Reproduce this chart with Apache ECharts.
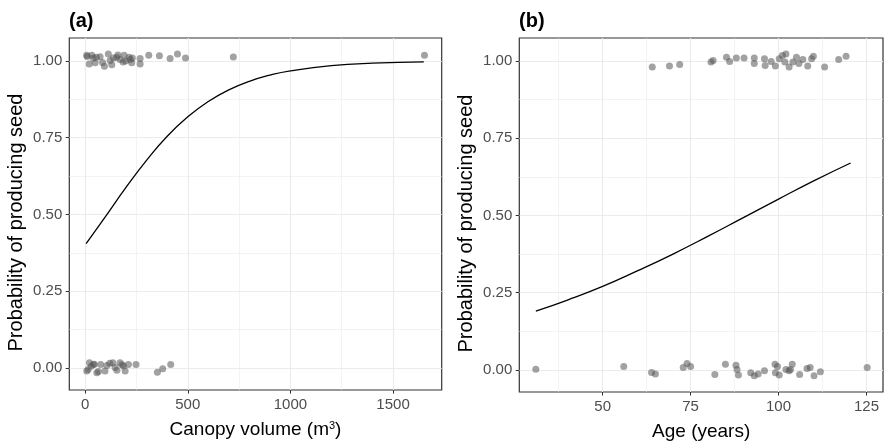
<!DOCTYPE html>
<html>
<head>
<meta charset="utf-8">
<script src="https://cdn.jsdelivr.net/npm/echarts@6/dist/echarts.min.js"></script>
<style>
  html, body { margin: 0; padding: 0; background: #fff; }
  #chart { width: 886px; height: 446px; }
</style>
</head>
<body>
<div id="chart"></div>
<script>
// ---------- Panel (a): canopy volume ----------
const canopyTopX = [8, 33, 49, 40, 73, 94, 113, 122, 138, 154, 170, 190, 198, 214, 227, 230, 268, 268, 310, 362, 414, 450, 489, 722, 1653, 10, 20, 55, 85, 130, 160, 185, 220];
const canopyTopY = [1.019, 1.019, 0.994, 1.010, 1.014, 0.983, 1.023, 1.002, 1.010, 1.012, 1.005, 1.019, 1.000, 1.012, 0.994, 1.010, 1.008, 0.990, 1.019, 1.017, 1.008, 1.023, 1.010, 1.013, 1.019, 1.015, 0.990, 1.012, 0.995, 0.988, 1.020, 0.997, 1.005];
const canopyBottomX = [21, 8, 40, 57, 76, 97, 106, 135, 146, 170, 187, 195, 211, 248, 352, 378, 417, 15, 45, 65, 120, 155, 180, 30];
const canopyBottomY = [0.017, -0.010, 0.011, -0.016, 0.011, -0.010, 0.008, 0.017, 0.001, 0.017, 0.006, -0.010, 0.011, 0.011, -0.014, -0.003, 0.011, -0.005, 0.012, -0.012, 0.015, -0.008, 0.010, 0.005];
const canopyCurveX = [5, 100, 200, 300, 400, 500, 600, 700, 800, 900, 1000, 1200, 1400, 1650];
const canopyCurveY = [0.405, 0.494, 0.589, 0.677, 0.755, 0.818, 0.868, 0.906, 0.934, 0.954, 0.968, 0.985, 0.993, 0.997];
const canopyTicks = [0, 500, 1000, 1500];

// ---------- Panel (b): age ----------
const ageTopX = [64.1, 69.0, 71.9, 80.8, 81.4, 85.2, 86.1, 88.0, 90.2, 93.1, 93.1, 96.0, 96.2, 97.9, 99.1, 100.2, 101.1, 102.1, 101.8, 103.0, 104.1, 105.1, 105.8, 106.9, 108.3, 109.4, 109.9, 113.1, 117.1, 119.2];
const ageTopY = [0.981, 0.984, 0.989, 0.997, 1.002, 1.013, 0.999, 1.010, 1.010, 1.010, 0.992, 1.008, 0.986, 0.999, 0.984, 1.008, 1.018, 1.023, 0.997, 0.981, 0.997, 1.013, 0.992, 1.005, 0.984, 1.008, 1.016, 0.981, 1.005, 1.016];
const ageBottomX = [31.0, 56.0, 63.9, 65.0, 72.9, 74.0, 75.0, 81.9, 84.9, 87.9, 88.2, 88.6, 92.1, 93.1, 94.2, 96.0, 99.0, 99.7, 99.1, 100.2, 102.1, 103.0, 103.9, 103.4, 106.0, 108.1, 109.0, 110.1, 111.9, 125.2];
const ageBottomY = [0.002, 0.011, -0.009, -0.014, 0.007, 0.020, 0.011, -0.015, 0.018, 0.015, 0.001, -0.017, -0.010, -0.019, -0.014, -0.003, 0.018, 0.011, -0.010, -0.017, 0.001, -0.003, 0.018, 0.001, -0.015, 0.004, 0.007, -0.019, -0.006, 0.007];
const ageCurveX = [31, 40, 50, 60, 70, 80, 90, 100, 110, 120.5];
const ageCurveY = [0.190, 0.226, 0.270, 0.321, 0.375, 0.433, 0.493, 0.553, 0.612, 0.670];
const ageTicks = [50, 75, 100, 125];

const probTicks = [0, 0.25, 0.5, 0.75, 1];

function pairs(xs, ys) { return xs.map((x, i) => [x, ys[i]]); }

const FONT = 'Liberation Sans, Arial, Helvetica, sans-serif';
const GRIDC = '#ebebeb';

function xAxisCfg(gridIndex, min, max, step, ticks, name, rich) {
  return {
    type: 'value', gridIndex, min, max, minInterval: step, maxInterval: step,
    name, nameLocation: 'middle', nameGap: 30,
    nameTextStyle: { fontSize: 19, color: '#000', fontFamily: FONT, rich: rich },
    axisLine: { show: false, onZero: false },
    axisTick: { show: true, length: 3.6, customValues: ticks, lineStyle: { color: '#333', width: 1 } },
    axisLabel: { color: '#4d4d4d', fontSize: 15, fontFamily: FONT, margin: 7,
      formatter: v => (ticks.indexOf(v) >= 0 ? String(v) : '') },
    splitLine: { show: true, lineStyle: { color: GRIDC, width: 1.1 } },
    minorTick: { show: false, splitNumber: 2 },
    minorSplitLine: { show: true, lineStyle: { color: GRIDC, width: 0.6 } }
  };
}
function yAxisCfg(gridIndex) {
  return {
    type: 'value', gridIndex, min: -0.072, max: 1.075, minInterval: 0.25, maxInterval: 0.25,
    name: 'Probability of producing seed', nameLocation: 'middle', nameGap: 43,
    nameTextStyle: { fontSize: 20, color: '#000', fontFamily: FONT, padding: [0, 17, 0, 0] },
    axisLine: { show: false, onZero: false },
    axisTick: { show: true, length: 3.6, customValues: probTicks, lineStyle: { color: '#333', width: 1 } },
    axisLabel: { color: '#4d4d4d', fontSize: 15, fontFamily: FONT, margin: 7,
      formatter: v => (probTicks.some(t => Math.abs(t - v) < 1e-9) ? v.toFixed(2) : '') },
    splitLine: { show: true, lineStyle: { color: GRIDC, width: 1.1 } },
    minorTick: { show: false, splitNumber: 2 },
    minorSplitLine: { show: true, lineStyle: { color: GRIDC, width: 0.6 } }
  };
}

const pointStyle = { color: '#555555', opacity: 0.55 };
const lineStyle = { color: '#000', width: 1.3 };

const chart = echarts.init(document.getElementById('chart'), null, { renderer: 'canvas' });
chart.setOption({
  animation: false,
  backgroundColor: '#ffffff',
  textStyle: { fontFamily: FONT },
  title: [
    { text: '(a)', left: 69, top: 11, padding: 0, textStyle: { fontSize: 20, fontWeight: 'bold', color: '#000', fontFamily: FONT } },
    { text: '(b)', left: 519, top: 11, padding: 0, textStyle: { fontSize: 20, fontWeight: 'bold', color: '#000', fontFamily: FONT } }
  ],
  grid: [
    { left: 69.3, top: 38, width: 372.4, height: 352, show: true, borderColor: '#333', borderWidth: 1.2, backgroundColor: 'transparent', containLabel: false },
    { left: 519.3, top: 38, width: 372.7, height: 361, show: true, borderColor: '#333', borderWidth: 1.2, backgroundColor: 'transparent', containLabel: false }
  ],
  xAxis: [
    xAxisCfg(0, -77, 1737, 500, canopyTicks, 'Canopy volume (m{sup|3})', { sup: { fontSize: 11, verticalAlign: 'top', color: '#000', padding: [0, 0, 8, 0] } }),
    xAxisCfg(1, 26.3, 129.7, 25, ageTicks, 'Age (years)')
  ],
  yAxis: [yAxisCfg(0), yAxisCfg(1)],
  series: [
    { type: 'scatter', xAxisIndex: 0, yAxisIndex: 0, symbolSize: 7, itemStyle: pointStyle, data: pairs(canopyTopX, canopyTopY) },
    { type: 'scatter', xAxisIndex: 0, yAxisIndex: 0, symbolSize: 7, itemStyle: pointStyle, data: pairs(canopyBottomX, canopyBottomY) },
    { type: 'line', xAxisIndex: 0, yAxisIndex: 0, smooth: true, symbol: 'none', lineStyle: lineStyle, data: pairs(canopyCurveX, canopyCurveY), z: 3 },
    { type: 'scatter', xAxisIndex: 1, yAxisIndex: 1, symbolSize: 7, itemStyle: pointStyle, data: pairs(ageTopX, ageTopY) },
    { type: 'scatter', xAxisIndex: 1, yAxisIndex: 1, symbolSize: 7, itemStyle: pointStyle, data: pairs(ageBottomX, ageBottomY) },
    { type: 'line', xAxisIndex: 1, yAxisIndex: 1, smooth: true, symbol: 'none', lineStyle: lineStyle, data: pairs(ageCurveX, ageCurveY), z: 3 }
  ]
});
</script>
</body>
</html>
